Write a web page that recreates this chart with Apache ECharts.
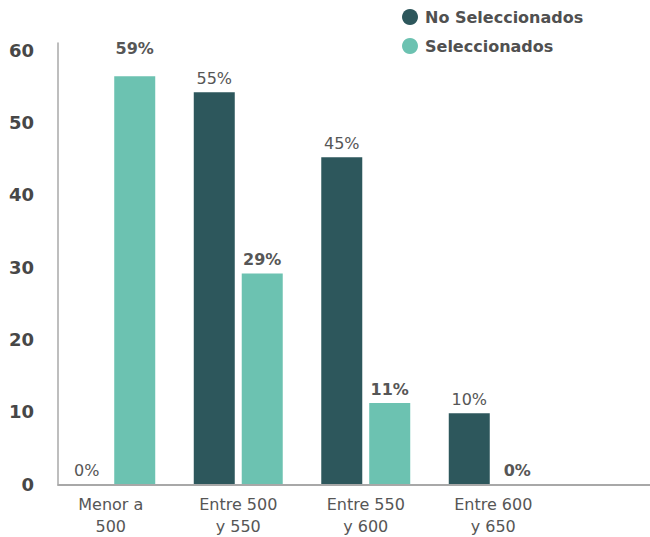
<!DOCTYPE html>
<html>
<head>
<meta charset="utf-8">
<script src="https://cdn.jsdelivr.net/npm/echarts@6/dist/echarts.min.js"></script>
<style>
  html, body { margin: 0; padding: 0; background: #fff; }
  #chart { width: 650px; height: 537px; }
</style>
</head>
<body>
<div id="chart"></div>
<script>
var categories = ['Menor a\n500', 'Entre 500\ny 550', 'Entre 550\ny 600', 'Entre 600\ny 650'];
var seriesNames = ['No Seleccionados', 'Seleccionados'];
var noSelValues = [0, 54.2, 45.2, 9.8];
var selValues = [56.4, 29.1, 11.2, 0];
var noSelLabels = ['0%', '55%', '45%', '10%'];
var selLabels = ['59%', '29%', '11%', '0%'];

var dark = '#2d575c';
var light = '#6cc2b1';
var textColor = '#565656';
var axisColor = '#a8a8a8';

function buildData(values, labels, bold) {
  return values.map(function (v, i) {
    return {
      value: v,
      label: {
        formatter: labels[i],
        fontWeight: bold ? 'bold' : 'normal',
        // the 59% label sits higher than its bar in the original
        distance: (labels[i] === '59%') ? 20 : 6
      }
    };
  });
}

var chart = echarts.init(document.getElementById('chart'), null, { renderer: 'svg' });
chart.setOption({
  animation: false,
  textStyle: { fontFamily: '"DejaVu Sans", sans-serif' },
  color: [dark, light],
  legend: {
    orient: 'vertical',
    left: 397,
    top: 4,
    itemWidth: 16,
    itemHeight: 16,
    itemGap: 13,
    icon: 'circle',
    textStyle: { color: '#505050', fontSize: 16, fontWeight: 'bold', padding: [0, 0, 0, 2] },
    data: seriesNames
  },
  grid: [
    // bars
    { left: 47, width: 510, top: 43, bottom: 52 },
    // only carries the baseline out to the right edge
    { left: 58, right: 0, top: 43, bottom: 52 }
  ],
  xAxis: [
    {
      type: 'category',
      gridIndex: 0,
      data: categories,
      axisLine: { show: false },
      axisTick: { show: false },
      axisLabel: {
        color: textColor,
        fontSize: 16,
        lineHeight: 22,
        margin: 9,
        interval: 0
      }
    },
    {
      type: 'value',
      gridIndex: 1,
      min: 0,
      max: 1,
      axisLine: { show: true, onZero: false, lineStyle: { color: axisColor, width: 2 } },
      axisTick: { show: false },
      axisLabel: { show: false },
      splitLine: { show: false }
    }
  ],
  yAxis: [
    {
      type: 'value',
      gridIndex: 0,
      min: 0,
      max: 61,
      interval: 10,
      offset: -11,
      axisLine: { show: true, lineStyle: { color: axisColor, width: 1.5 } },
      axisTick: { show: false },
      splitLine: { show: false },
      axisLabel: {
        color: '#474747',
        fontSize: 18,
        fontWeight: 'bold',
        margin: 24,
        showMaxLabel: false
      }
    },
    { type: 'value', gridIndex: 1, min: 0, max: 1, show: false }
  ],
  series: [
    {
      name: seriesNames[0],
      type: 'bar',
      barWidth: 41,
      barGap: '17%',
      data: buildData(noSelValues, noSelLabels, false),
      label: { show: true, position: 'top', color: textColor, fontSize: 16 }
    },
    {
      name: seriesNames[1],
      type: 'bar',
      barWidth: 41,
      barGap: '17%',
      data: buildData(selValues, selLabels, true),
      label: { show: true, position: 'top', color: textColor, fontSize: 16 }
    }
  ]
});
</script>
</body>
</html>
